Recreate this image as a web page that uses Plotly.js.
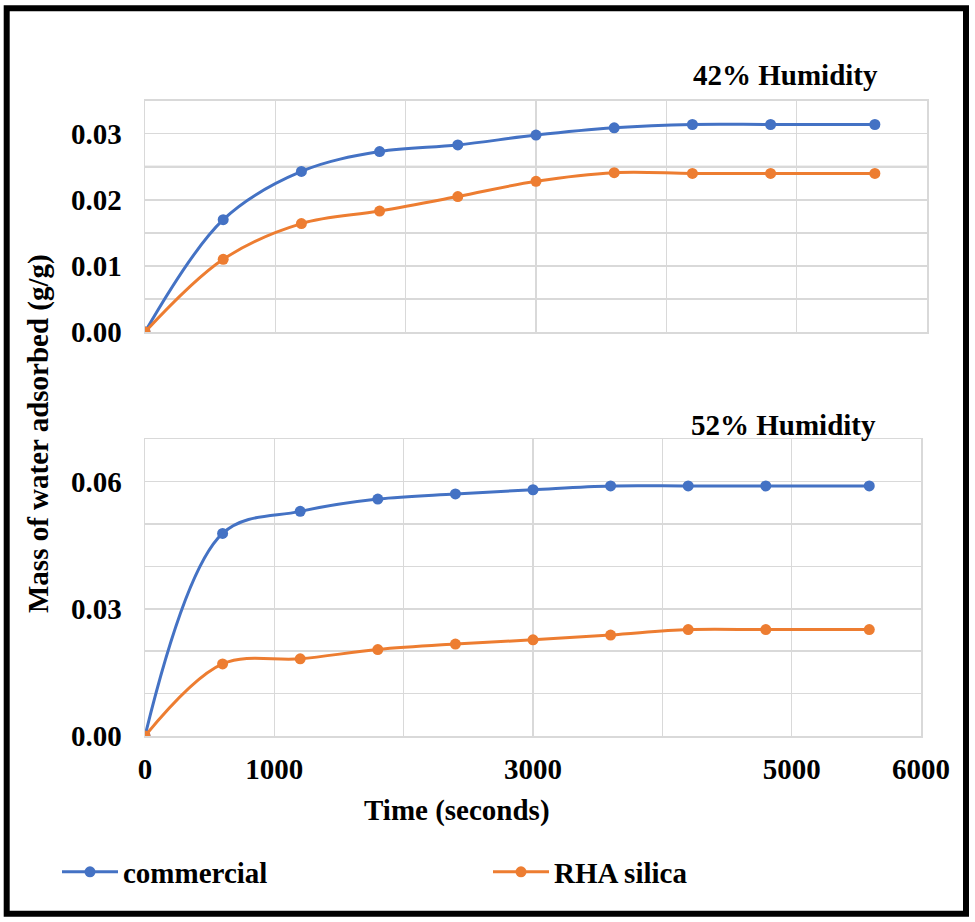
<!DOCTYPE html>
<html><head><meta charset="utf-8">
<script src="https://cdn.plot.ly/plotly-3.0.1.min.js"></script>
<style>html,body{margin:0;padding:0;background:#fff}#chart{width:975px;height:922px}</style>
</head><body><div id="chart"></div>
<script>
const timeSeconds = [0, 600, 1200, 1800, 2400, 3000, 3600, 4200, 4800, 5600];
const commercial42 = [0, 0.0170, 0.0243, 0.0273, 0.0283, 0.0298, 0.0309, 0.0314, 0.0314, 0.0314];
const rha42 = [0, 0.0110, 0.0164, 0.0183, 0.0205, 0.0228, 0.0241, 0.0240, 0.0240, 0.0240];
const commercial52 = [0, 0.0478, 0.0530, 0.0559, 0.0571, 0.0581, 0.0590, 0.0590, 0.0590, 0.0590];
const rha52 = [0, 0.0170, 0.0182, 0.0204, 0.0217, 0.0227, 0.0238, 0.0251, 0.0251, 0.0251];
const xTickVals = [0, 1000, 3000, 5000, 6000];
const xTickLabels = ['0', '1000', '3000', '5000', '6000'];
const seriesNames = ['commercial', 'RHA silica'];
const panelTitles = ['42% Humidity', '52% Humidity'];
const yTitle = 'Mass of water adsorbed (g/g)';
const xTitle = 'Time (seconds)';

const BLUE = '#4472C4', ORANGE = '#ED7D31', GRID = '#d9d9d9';
const FONT = 'Liberation Serif, Times New Roman, serif';
const FS = 29;

function tr(y, name, color, xa, ya, show) {
  return {
    x: timeSeconds, y: y, name: name, type: 'scatter', mode: 'lines+markers',
    xaxis: xa, yaxis: ya, showlegend: show,
    line: {color: color, width: 3, shape: 'spline', smoothing: 1},
    marker: {color: color, size: 11}
  };
}
const data = [
  tr(commercial42, seriesNames[0], BLUE, 'x', 'y', true),
  tr(rha42, seriesNames[1], ORANGE, 'x', 'y', true),
  tr(commercial52, seriesNames[0], BLUE, 'x2', 'y2', false),
  tr(rha52, seriesNames[1], ORANGE, 'x2', 'y2', false)
];
const tfont = {family: FONT, size: FS, color: '#000', weight: 'bold'};
const W = 975, H = 922;
const px = v => v / W, py = v => 1 - v / H;

const layout = {
  width: W, height: H, autosize: false,
  margin: {l: 0, r: 0, t: 0, b: 0, pad: 0},
  paper_bgcolor: '#fff', plot_bgcolor: '#fff',
  font: tfont,
  xaxis: {
    domain: [px(145), px(927)], range: [0, 6000], anchor: 'y',
    dtick: 1000, tick0: 0, showticklabels: false, ticks: '',
    showgrid: true, gridcolor: GRID, gridwidth: 1.5, zeroline: false,
    showline: true, mirror: true, linecolor: GRID, linewidth: 1.5
  },
  yaxis: {
    domain: [py(332), py(100.7)], range: [0, 0.035], anchor: 'x',
    dtick: 0.01, tick0: 0, tickformat: '.2f', ticks: '', ticklabelstandoff: 16,
    tickfont: tfont,
    showgrid: true, gridcolor: GRID, gridwidth: 1.5, zeroline: false,
    minor: {dtick: 0.005, tick0: 0, showgrid: true, gridcolor: GRID, gridwidth: 1.5, ticks: ''},
    showline: true, mirror: true, linecolor: GRID, linewidth: 1.5
  },
  xaxis2: {
    domain: [px(145), px(921)], range: [0, 6000], anchor: 'y2',
    tickmode: 'array', tickvals: xTickVals, ticktext: xTickLabels, ticks: '',
    ticklabelstandoff: 7, tickfont: tfont,
    showgrid: true, gridcolor: GRID, gridwidth: 1.5, zeroline: false,
    minor: {tickmode: 'linear', dtick: 1000, tick0: 0, showgrid: true, gridcolor: GRID, gridwidth: 1.5, ticks: ''},
    showline: true, mirror: true, linecolor: GRID, linewidth: 1.5
  },
  yaxis2: {
    domain: [py(736), py(439.3)], range: [0, 0.07], anchor: 'x2',
    dtick: 0.03, tick0: 0, tickformat: '.2f', ticks: '', ticklabelstandoff: 16,
    tickfont: tfont,
    showgrid: true, gridcolor: GRID, gridwidth: 1.5, zeroline: false,
    minor: {dtick: 0.01, tick0: 0, showgrid: true, gridcolor: GRID, gridwidth: 1.5, ticks: ''},
    showline: true, mirror: true, linecolor: GRID, linewidth: 1.5
  },
  legend: {
    orientation: 'h', x: px(57), y: py(872), xanchor: 'left', yanchor: 'middle',
    font: tfont, bgcolor: 'rgba(0,0,0,0)',
    entrywidth: 360, entrywidthmode: 'pixels', itemwidth: 56
  },
  annotations: [
    {text: panelTitles[0], xref: 'paper', yref: 'paper', x: px(785), y: py(75), showarrow: false, font: tfont, xanchor: 'center', yanchor: 'middle'},
    {text: panelTitles[1], xref: 'paper', yref: 'paper', x: px(783), y: py(425), showarrow: false, font: tfont, xanchor: 'center', yanchor: 'middle'},
    {text: xTitle, xref: 'paper', yref: 'paper', x: px(457), y: py(810), showarrow: false, font: tfont, xanchor: 'center', yanchor: 'middle'},
    {text: yTitle, xref: 'paper', yref: 'paper', x: px(38), y: py(434), showarrow: false, font: tfont, textangle: -90, xanchor: 'center', yanchor: 'middle'}
  ],
  shapes: [
    {type: 'line', xref: 'x domain', yref: 'y', x0: 0, x1: 1, y0: 0.025, y1: 0.025, line: {color: '#c4c4c4', width: 2}, layer: 'below'},
    {type: 'rect', xref: 'paper', yref: 'paper', x0: px(6.7), x1: px(966), y0: py(913.7), y1: py(8.3), line: {color: '#000', width: 6}}
  ]
};
Plotly.newPlot('chart', data, layout, {displayModeBar: false, staticPlot: true});
</script></body></html>
